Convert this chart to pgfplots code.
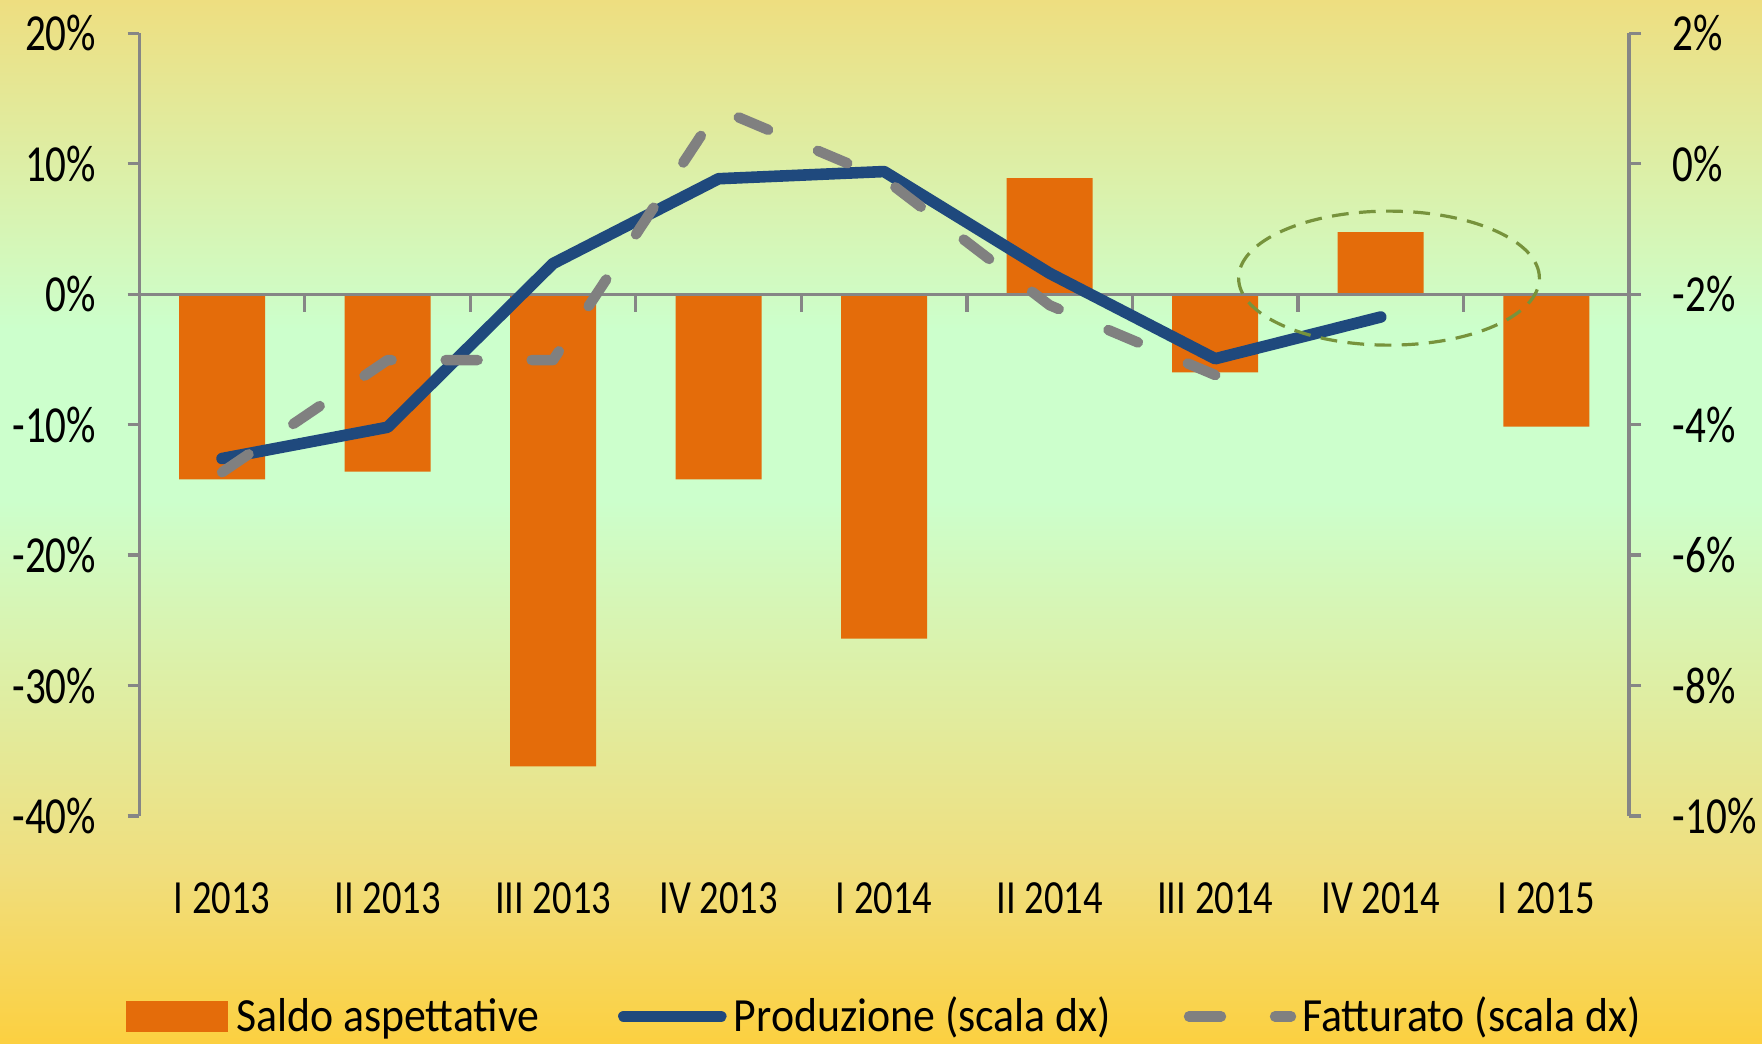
\documentclass[border=0pt]{standalone}
\usepackage{pgfplots}
\pgfplotsset{compat=1.18}
\usepackage{fontspec}
\setmainfont{Carlito}
\newfontfamily\ytfont{Carlito}[FakeStretch=0.79]
\newfontfamily\xtfont{Carlito}[FakeStretch=0.81]
\newfontfamily\lgfont{Carlito}[FakeStretch=0.92]
\definecolor{barorange}{HTML}{E46C0A}
\definecolor{prodblue}{HTML}{1F497D}
\definecolor{fattgray}{HTML}{808080}
\definecolor{axisgray}{HTML}{868686}
\definecolor{ellgreen}{HTML}{77933C}
\definecolor{bgtop}{HTML}{EEDE80}
\definecolor{bggreen}{HTML}{CCFFCC}
\definecolor{bglow}{HTML}{F0DE7D}
\definecolor{bgbot}{HTML}{FCD040}
\pgfdeclareverticalshading{bgshade}{100bp}{color(0bp)=(bgbot); color(25bp)=(bgbot); color(33.33bp)=(bglow); color(51.05bp)=(bggreen); color(59.2bp)=(bggreen); color(75bp)=(bgtop); color(100bp)=(bgtop)}
\pgfplotsset{
  prodlegend/.style={legend image code/.code={\draw[##1] (0pt,0pt) -- (24.25pt,0pt);}},
  fattlegend/.style={legend image code/.code={\draw[##1] (0pt,0pt) -- (25.5pt,0pt);}},
  barlegend/.style={legend image code/.code={\fill[barorange] (0pt,-3.6pt) rectangle (25.2pt,3.6pt);}},
}
\begin{document}
\begin{tikzpicture}
\useasboundingbox (0,0) rectangle (440.5pt,261pt);
\shade[shading=bgshade] (0,0) rectangle (440.5pt,261pt);
\begin{axis}[
  at={(34.825pt,57pt)}, anchor=south west,
  scale only axis, width=372.425pt, height=195.675pt,
  xmin=-0.5, xmax=8.5, ymin=-40, ymax=20,
  axis y line*=left, axis x line*=bottom,
  x axis line style={draw=none},
  xtick={0,...,8},
  xticklabels={I 2013,II 2013,III 2013,IV 2013,I 2014,II 2014,III 2014,IV 2014,I 2015},
  xtick style={draw=none},
  xticklabel style={font=\xtfont\fontsize{11.9}{14}\selectfont, anchor=base, yshift=-21.5pt, inner sep=0pt},
  ytick={-40,-30,...,20},
  yticklabels={-40\%,-30\%,-20\%,-10\%,0\%,10\%,20\%},
  yticklabel style={font=\ytfont\fontsize{13}{15}\selectfont, anchor=east, inner sep=0pt, xshift=-7.7pt},
  tick align=outside, major tick length=2.9pt,
  y axis line style={draw=axisgray, line width=0.8pt},
  ytick style={draw=axisgray, line width=0.8pt},
  clip=false,
  ybar, bar width=21.5pt,
]
\addplot[fill=barorange, draw=none] coordinates {(0,-14.2) (1,-13.6) (2,-36.2) (3,-14.2) (4,-26.4) (5,8.9) (6,-6.0) (7,4.75) (8,-10.15)};
\draw[axisgray, line width=0.8pt] (axis cs:-0.5,0) -- (axis cs:8.5,0);
\pgfplotsinvokeforeach{0.5,1.5,2.5,3.5,4.5,5.5,6.5,7.5}{\draw[axisgray, line width=0.8pt] (axis cs:#1,0) -- ++(0pt,-4.4pt);}
\end{axis}
\begin{axis}[
  at={(34.825pt,57pt)}, anchor=south west,
  scale only axis, width=372.425pt, height=195.675pt,
  xmin=-0.5, xmax=8.5, ymin=-10, ymax=2,
  axis y line*=right, axis x line=none,
  ytick={-10,-8,...,2},
  yticklabels={-10\%,-8\%,-6\%,-4\%,-2\%,0\%,2\%},
  yticklabel style={font=\ytfont\fontsize{13}{15}\selectfont, anchor=west, inner sep=0pt, xshift=7.75pt},
  tick align=outside, major tick length=3pt,
  y axis line style={draw=axisgray, line width=0.8pt},
  ytick style={draw=axisgray, line width=0.8pt},
  clip=false,
  legend columns=3,
  legend style={at={(axis description cs:-0.00893,-0.25604)}, anchor=west, draw=none, fill=none,
    inner sep=0pt, outer sep=0pt, column sep=0pt,
    font=\lgfont\fontsize{11.9}{14}\selectfont,
    nodes={inner sep=0pt, outer sep=0pt, text height=7.5pt, text depth=0pt},
    cells={anchor=west}},
]
\addlegendimage{barlegend}
\addlegendentry{\makebox[97.4pt][l]{\hspace*{1.95pt}Saldo aspettative}}
\addplot[prodblue, line width=2.9pt, line cap=round, line join=round, prodlegend]
  coordinates {(0,-4.52) (1,-4.04) (2,-1.53) (3,-0.23) (4,-0.12) (5,-1.68) (6,-2.99) (7,-2.35)};
\addlegendentry{\makebox[114.3pt][l]{\hspace*{1.8pt}Produzione (scala dx)}}
\addplot[fattgray, line width=2.6pt, line cap=round, line join=round, dash pattern=on 8pt off 13.5pt, fattlegend]
  coordinates {(0,-4.73) (1,-3.01) (2,-3.01) (3,0.84) (4,-0.23) (5,-2.17) (6,-3.24)};
\addlegendentry{\hspace*{1.55pt}Fatturato (scala dx)}
\draw[ellgreen, line width=0.8pt, dash pattern=on 4.2pt off 2.6pt] (axis cs:7.05,-1.754) ellipse [x radius=37.6pt, y radius=16.75pt];
\end{axis}
\end{tikzpicture}
\end{document}
